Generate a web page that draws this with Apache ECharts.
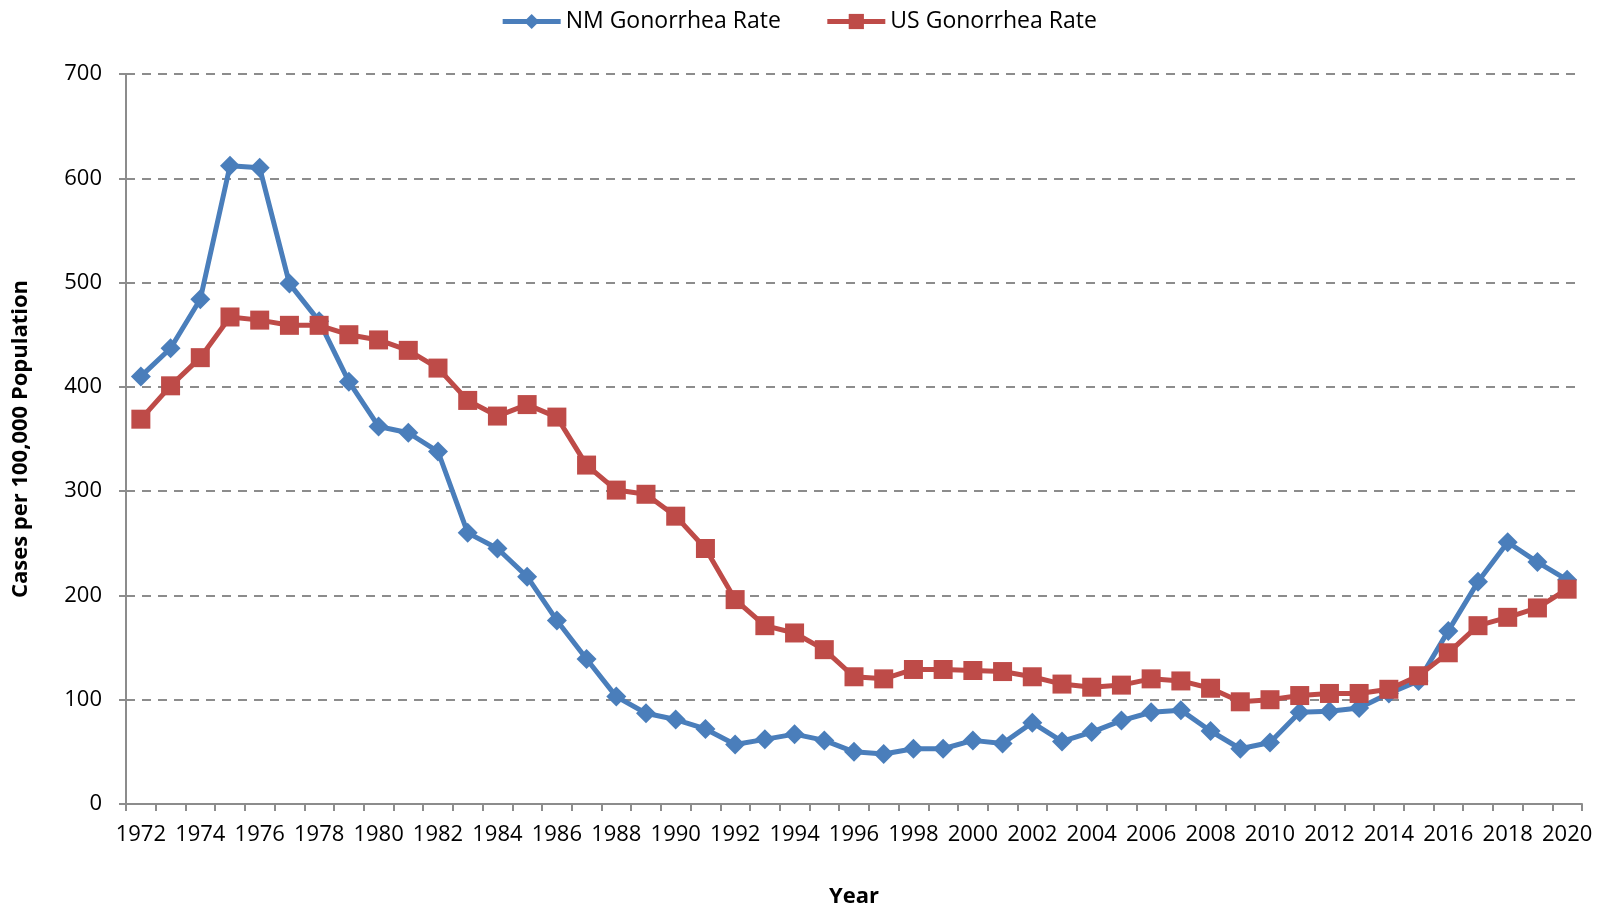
<!DOCTYPE html>
<html>
<head>
<meta charset="utf-8">
<script src="https://cdn.jsdelivr.net/npm/echarts@6/dist/echarts.min.js"></script>
<style>
  html, body { margin: 0; padding: 0; background: #fff; }
  #chart { width: 1597px; height: 913px; }
</style>
</head>
<body>
<div id="chart"></div>
<script>
// years on the x axis
var years = [];
for (var y = 1972; y <= 2020; y++) years.push(String(y));

// rates per 100,000 population
var nmRate = [410, 437, 484, 612, 610, 499, 463, 405, 362, 356,
	338, 260, 245, 218, 176, 139, 103, 87, 81, 72,
	57, 62, 67, 61, 50, 48, 53, 53, 61, 58,
	78, 60, 69, 80, 88, 90, 70, 53, 59, 88,
	89, 92, 106, 118, 166, 213, 251, 232, 215];
var usRate = [369, 401, 428, 467, 464, 459, 459, 450, 445, 435,
	418, 387, 372, 383, 371, 325, 301, 297, 276, 245,
	196, 171, 164, 148, 122, 120, 129, 129, 128, 127,
	122, 115, 112, 114, 120, 118, 111, 98, 100, 104,
	106, 106, 110, 123, 145, 171, 179, 188, 206];

var fontFam = '"Open Sans", "Noto Sans", sans-serif';

var myChart = echarts.init(document.getElementById('chart'));

var option = {
	backgroundColor: '#fff',
	animation: false,
	legend: {
		top: 5,
		left: 'center',
		itemWidth: 58,
		itemHeight: 19,
		itemGap: 44,
		lineStyle: { width: 5 },
		textStyle: { fontFamily: fontFam, fontSize: 23, color: '#000' },
		data: ['NM Gonorrhea Rate', 'US Gonorrhea Rate']
	},
	grid: { left: 126, right: 15, top: 74, bottom: 106 },
	xAxis: {
		type: 'category',
		data: years,
		boundaryGap: true,
		name: 'Year',
		nameLocation: 'middle',
		nameGap: 82,
		nameTextStyle: { fontFamily: fontFam, fontSize: 22, fontWeight: 'bold', color: '#000' },
		axisLine: { lineStyle: { color: '#8c8c8c', width: 2 } },
		axisTick: { show: true, alignWithLabel: false, interval: 0, length: 7, lineStyle: { color: '#8c8c8c', width: 2 } },
		axisLabel: { interval: 1, margin: 20, fontFamily: fontFam, fontSize: 22, color: '#000' },
		splitLine: { show: false }
	},
	yAxis: {
		type: 'value',
		min: 0,
		max: 700,
		interval: 100,
		name: 'Cases per 100,000 Population',
		nameLocation: 'middle',
		nameGap: 94,
		nameTextStyle: { fontFamily: fontFam, fontSize: 22, fontWeight: 'bold', color: '#000' },
		axisLine: { show: true, lineStyle: { color: '#8c8c8c', width: 2 } },
		axisTick: { show: true, length: 7, lineStyle: { color: '#8c8c8c', width: 2 } },
		axisLabel: { margin: 24, fontFamily: fontFam, fontSize: 22, color: '#000' },
		splitLine: { show: true, lineStyle: { color: '#8c8c8c', width: 2, type: [9, 7] } }
	},
	series: [
		{
			name: 'NM Gonorrhea Rate',
			type: 'line',
			data: nmRate,
			symbol: 'diamond',
			symbolSize: 20,
			showAllSymbol: true,
			color: '#4a7ebb',
			lineStyle: { width: 5, color: '#4a7ebb' },
			itemStyle: { color: '#4a7ebb' },
			z: 2
		},
		{
			name: 'US Gonorrhea Rate',
			type: 'line',
			data: usRate,
			symbol: 'rect',
			symbolSize: 19,
			showAllSymbol: true,
			color: '#be4b48',
			lineStyle: { width: 5, color: '#be4b48' },
			itemStyle: { color: '#be4b48' },
			z: 3
		}
	]
};

myChart.setOption(option);
</script>
</body>
</html>
